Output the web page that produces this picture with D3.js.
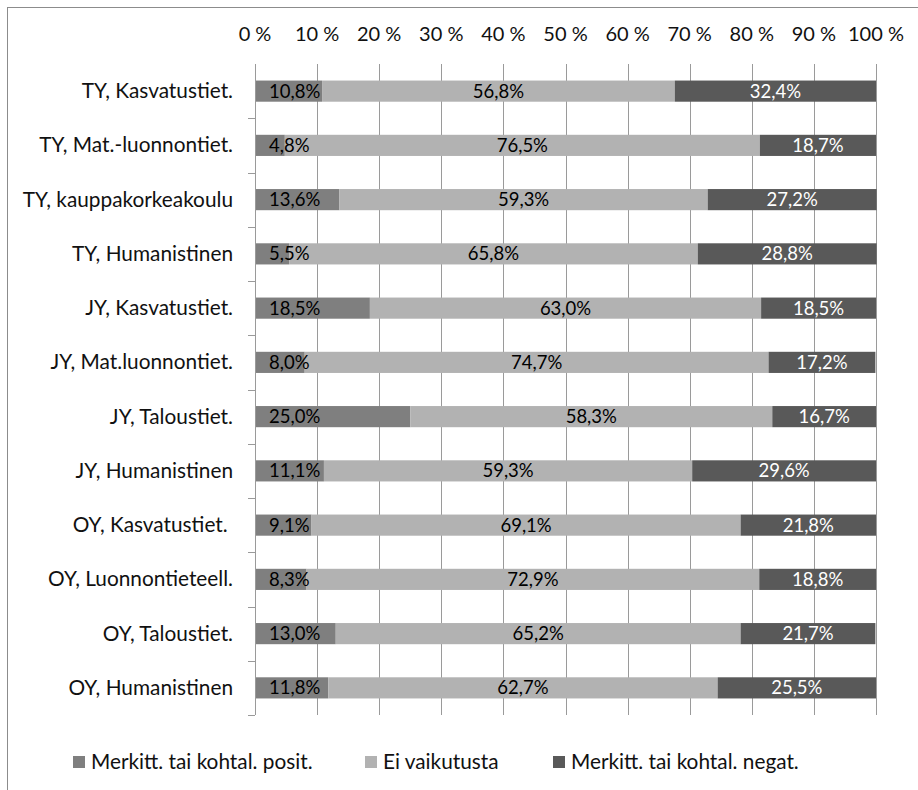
<!DOCTYPE html>
<html>
<head>
<meta charset="utf-8">
<script src="https://cdn.jsdelivr.net/npm/d3@7/dist/d3.min.js"></script>
<style>
  html, body { margin: 0; padding: 0; background: #fff; }
  svg { display: block; }
  text { font-family: Lato, "Open Sans", sans-serif; white-space: pre; }
</style>
</head>
<body>
<svg id="chart" width="918" height="790"></svg>
<script>
// Faculties, top to bottom
const categories = [
  "TY, Kasvatustiet.",
  "TY, Mat.-luonnontiet.",
  "TY, kauppakorkeakoulu",
  "TY, Humanistinen",
  "JY, Kasvatustiet.",
  "JY, Mat.luonnontiet.",
  "JY, Taloustiet.",
  "JY, Humanistinen",
  "OY, Kasvatustiet. ",
  "OY, Luonnontieteell.",
  "OY, Taloustiet.",
  "OY, Humanistinen"
];

// Shares (%) per answer group
const positive = [10.8, 4.8, 13.6, 5.5, 18.5, 8.0, 25.0, 11.1, 9.1, 8.3, 13.0, 11.8];
const neutral  = [56.8, 76.5, 59.3, 65.8, 63.0, 74.7, 58.3, 59.3, 69.1, 72.9, 65.2, 62.7];
const negative = [32.4, 18.7, 27.2, 28.8, 18.5, 17.2, 16.7, 29.6, 21.8, 18.8, 21.7, 25.5];

const seriesNames = ["Merkitt. tai kohtal. posit.", "Ei vaikutusta", "Merkitt. tai kohtal. negat."];
const tickValues = [0, 10, 20, 30, 40, 50, 60, 70, 80, 90, 100];

const colors = ["#7f7f7f", "#b2b2b2", "#595959"];
const labelColors = ["#000", "#000", "#fff"];

const svg = d3.select("#chart");

// outer chart frame (continues past the right and bottom edges)
svg.append("rect")
  .attr("x", 7.5).attr("y", 7.5)
  .attr("width", 940).attr("height", 820)
  .attr("fill", "none").attr("stroke", "#8c8c8c").attr("stroke-width", 1);

const x = d3.scaleLinear().domain([0, 100]).range([255, 876]);
const y = d3.scaleBand().domain(categories).range([64, 715]).paddingInner(0.61).paddingOuter(0.305);
const band = d3.scaleBand().domain(categories).range([64, 715]);

// vertical gridlines
svg.append("g").selectAll("line").data(tickValues).join("line")
  .attr("x1", d => Math.round(x(d)) + 0.5).attr("x2", d => Math.round(x(d)) + 0.5)
  .attr("y1", 64).attr("y2", 715)
  .attr("stroke", "#9a9a9a").attr("stroke-width", 1);

// top axis labels
svg.append("g").selectAll("text").data(tickValues).join("text")
  .attr("x", d => x(d)).attr("y", 41)
  .attr("text-anchor", "middle")
  .attr("font-size", 20).attr("fill", "#111")
  .text(d => d + " %");

// stacked data
const rows = categories.map((c, i) => ({ cat: c, vals: [positive[i], neutral[i], negative[i]] }));
const segs = [];
rows.forEach(r => {
  let acc = 0;
  r.vals.forEach((v, k) => {
    segs.push({ cat: r.cat, k, v, x0: acc, x1: acc + v });
    acc += v;
  });
});

svg.append("g").selectAll("rect").data(segs).join("rect")
  .attr("x", d => x(d.x0))
  .attr("width", d => x(d.x1) - x(d.x0))
  .attr("y", d => y(d.cat))
  .attr("height", y.bandwidth())
  .attr("fill", d => colors[d.k]);

// value labels
const fmt = v => v.toFixed(1).replace(".", ",") + "%";
svg.append("g").selectAll("text").data(segs).join("text")
  .attr("x", d => d.k === 0 ? x(0) + 14 : (x(d.x0) + x(d.x1)) / 2)
  .attr("y", d => y(d.cat) + y.bandwidth() / 2 + 6.5)
  .attr("text-anchor", d => d.k === 0 ? "start" : "middle")
  .attr("font-size", 18.5)
  .attr("fill", d => labelColors[d.k])
  .text(d => fmt(d.v));

// left category axis
svg.append("line")
  .attr("x1", 255.5).attr("x2", 255.5).attr("y1", 64).attr("y2", 715)
  .attr("stroke", "#9a9a9a");
svg.append("g").selectAll("line").data(categories).join("line")
  .attr("x1", 248).attr("x2", 255)
  .attr("y1", d => Math.round(band(d) + band.bandwidth()) + 0.5)
  .attr("y2", d => Math.round(band(d) + band.bandwidth()) + 0.5)
  .attr("stroke", "#9a9a9a");

svg.append("g").selectAll("text").data(categories).join("text")
  .attr("x", 233)
  .attr("y", d => y(d) + y.bandwidth() / 2 + 7)
  .attr("text-anchor", "end")
  .attr("font-size", 20.8).attr("fill", "#111")
  .text(d => d);

// legend
const legendX = [73, 365, 553];
const lg = svg.append("g").selectAll("g").data(seriesNames).join("g")
  .attr("transform", (d, i) => `translate(${legendX[i]},762)`);
lg.append("rect").attr("x", 0).attr("y", -6).attr("width", 12).attr("height", 12)
  .attr("fill", (d, i) => colors[i]);
lg.append("text").attr("x", 18).attr("y", 7)
  .attr("font-size", 20.8).attr("fill", "#111")
  .text(d => d);
</script>
</body>
</html>
